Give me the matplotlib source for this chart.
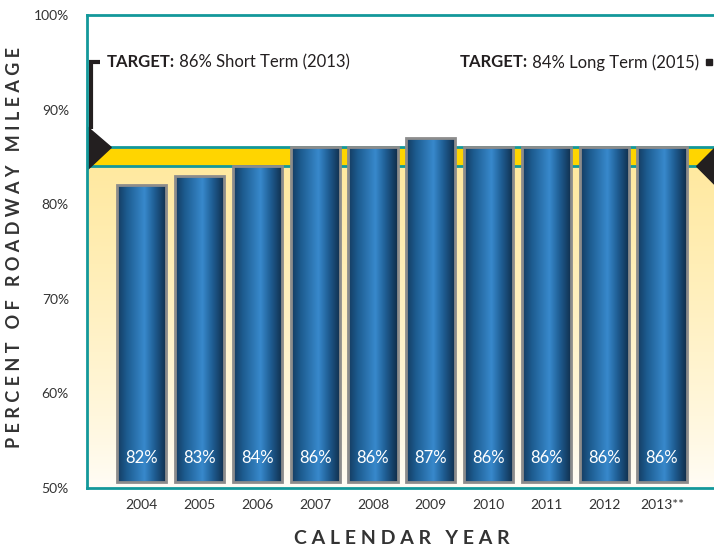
import numpy as np
import matplotlib.pyplot as plt
from matplotlib.colors import LinearSegmentedColormap
from matplotlib.patches import Polygon

# Percent of roadway mileage by calendar year
years = ['2004', '2005', '2006', '2007', '2008', '2009', '2010', '2011', '2012', '2013**']
percent = [82, 83, 84, 86, 86, 87, 86, 86, 86, 86]

short_term_target = 86   # 2013
long_term_target = 84    # 2015
y_ticks = [50, 60, 70, 80, 90, 100]
y_tick_labels = ['50%', '60%', '70%', '80%', '90%', '100%']

plt.rcParams['font.family'] = ['Lato', 'DejaVu Sans']

teal = '#13989a'
text_col = '#333333'


def spaced(s):
    """Letter-space a caption: one space between letters, three between words."""
    return '   '.join(' '.join(w) for w in s.split(' '))


fig = plt.figure(figsize=(7.14, 5.49), dpi=100)
ax = fig.add_axes([87 / 714, 1 - 488 / 549, 1 - 87 / 714, (488 - 15) / 549])

x = np.arange(len(years))
x0, x1 = -0.95, 9.9

# pale yellow wash below the target band, fading downward
wash = LinearSegmentedColormap.from_list('wash', ['#fffdf7', '#fff3cc', '#ffe9a0'])
ax.imshow(np.linspace(1, 0, 256).reshape(-1, 1) ** 0.8, extent=[x0, x1, 50, long_term_target],
          cmap=wash, aspect='auto', zorder=0.5, interpolation='bilinear')

# target band
ax.axhspan(long_term_target, short_term_target, color='#ffd500', zorder=1, lw=0)
ax.axhline(short_term_target, color=teal, lw=2, zorder=1.5)
ax.axhline(long_term_target, color=teal, lw=2, zorder=1.5)

# bars with a cylindrical blue gradient
bar_cmap = LinearSegmentedColormap.from_list(
    'cyl', [(0.0, '#143a5e'), (0.2, '#1d5c90'), (0.55, '#3889cc'),
            (0.75, '#1f5e94'), (1.0, '#0f2c48')])
base = 50.6
bars = ax.bar(x, np.array(percent) - base, bottom=base, width=0.85,
              facecolor='none', edgecolor='#8c8c8c', lw=2, zorder=4)
grad = np.linspace(0, 1, 256).reshape(1, -1)
for b in bars:
    im = ax.imshow(grad, extent=[b.get_x(), b.get_x() + b.get_width(), base, b.get_y() + b.get_height()],
                   cmap=bar_cmap, aspect='auto', zorder=3, interpolation='bilinear')
    im.set_clip_path(b)

for xi, v in zip(x, percent):
    ax.text(xi, 53.2, f'{v}%', color='white', ha='center', va='center', fontsize=12, zorder=5)

ax.set_xlim(x0, x1)
ax.set_ylim(50, 100)

# left marker: bracket and arrowhead pointing at the short-term target
ax.plot([-0.73, -0.88, -0.88], [95, 95, short_term_target + 2.0], color='#231f20', lw=3,
        solid_capstyle='butt', solid_joinstyle='miter', zorder=2, clip_on=False)
ax.add_patch(Polygon([[x0, short_term_target + 2.2], [-0.53, short_term_target],
                      [x0, short_term_target - 2.4]], closed=True, color='#231f20', zorder=2))
# right marker: arrowhead pointing at the long-term target
ax.add_patch(Polygon([[9.6, long_term_target], [10.3, long_term_target + 4.3],
                      [10.3, long_term_target - 4.3]], closed=True, color='#231f20', zorder=2))
ax.plot([9.82], [95], marker='s', ms=5, color='#231f20', zorder=2)

t1 = ax.text(-0.6, 95, 'TARGET:', fontweight='bold', fontsize=12, color='#231f20', va='center')
ax.annotate(f' {short_term_target}% Short Term (2013)', xy=(1, 0.5), xycoords=t1, va='center',
            fontsize=12, color='#231f20')
t2 = ax.text(5.5, 95, 'TARGET:', fontweight='bold', fontsize=12, color='#231f20', va='center')
ax.annotate(f' {long_term_target}% Long Term (2015)', xy=(1, 0.5), xycoords=t2, va='center',
            fontsize=12, color='#231f20')

# axes styling
for side in ['left', 'top', 'bottom']:
    ax.spines[side].set_color(teal)
    ax.spines[side].set_linewidth(2)
ax.spines['right'].set_visible(False)
ax.set_xticks(x)
ax.set_xticklabels(years, fontsize=10, color=text_col)
ax.set_yticks(y_ticks)
ax.set_yticklabels(y_tick_labels, fontsize=10, color=text_col)
ax.tick_params(length=0)
ax.tick_params(axis='y', pad=13)
ax.tick_params(axis='x', pad=8)

fig.text(402 / 714, 1 - 538 / 549, spaced('CALENDAR YEAR'),
         ha='center', va='center', fontsize=14, fontweight='bold', color=text_col)
fig.text(15 / 714, 1 - 247 / 549, spaced('PERCENT OF ROADWAY MILEAGE'),
         ha='center', va='center', rotation=90, fontsize=13, fontweight='bold', color=text_col)

fig.savefig('out.png', dpi=100)
